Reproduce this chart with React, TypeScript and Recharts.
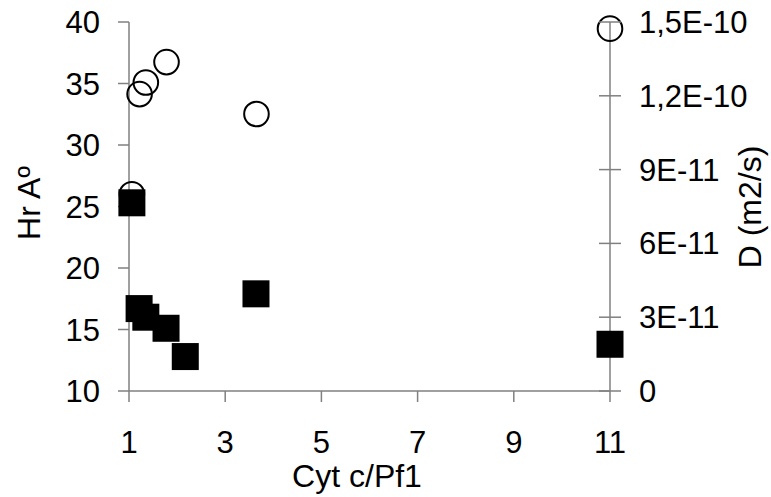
import { ScatterChart, Scatter, XAxis, YAxis } from 'recharts';

// Cyt c / Pf1 ratio for each measurement
const hrRatio = [1.06, 1.21, 1.35, 1.77, 2.17, 3.64, 11];
const hrValues = [25.3, 16.7, 16.0, 15.1, 12.8, 17.9, 13.8];

const dRatio = [1.06, 1.22, 1.35, 1.78, 3.65, 11];
const dValues = [8.0e-11, 1.207e-10, 1.254e-10, 1.337e-10, 1.126e-10, 1.473e-10];

const xTicks = [1, 3, 5, 7, 9, 11];
const hrTicks = [10, 15, 20, 25, 30, 35, 40];
const dTicks = [0, 3e-11, 6e-11, 9e-11, 1.2e-10, 1.5e-10];
const dTickLabels = ['0', '3E-11', '6E-11', '9E-11', '1,2E-10', '1,5E-10'];

const FONT = '"Liberation Sans", Arial, sans-serif';
const AXIS = '#808080';
const TICK_FONT = 31;
const TITLE_FONT = 32;

const hrData = hrRatio.map((x, i) => ({ x, y: hrValues[i] }));
const dData = dRatio.map((x, i) => ({ x, y: dValues[i] }));

const Square = (props: any) => (
  <rect x={props.cx - 13.5} y={props.cy - 13.5} width={27} height={27} fill="#000" />
);

const Ring = (props: any) => (
  <circle cx={props.cx} cy={props.cy} r={12.3} fill="none" stroke="#000" strokeWidth={2} />
);

function RightTick({ x, y, index }: any) {
  return (
    <g>
      <line x1={x - 11} x2={x + 11} y1={y} y2={y} stroke={AXIS} strokeWidth={1.5} />
      <text x={x + 29} y={y} dy="0.355em" fontSize={TICK_FONT} fontFamily={FONT} fill="#000">
        {dTickLabels[index]}
      </text>
    </g>
  );
}

const tickStyle = { fontSize: TICK_FONT, fontFamily: FONT, fill: '#000' };

export default function App() {
  return (
    <div style={{ position: 'absolute', left: 0, top: 0, background: '#fff' }}>
      <ScatterChart width={771} height={497} margin={{ top: 22, right: 0, bottom: 0, left: 0 }}>
        <XAxis
          type="number"
          dataKey="x"
          domain={[1, 11]}
          ticks={xTicks}
          height={106}
          stroke={AXIS}
          strokeWidth={1.5}
          tickSize={11}
          tickMargin={29}
          tick={tickStyle}
          label={{
            value: 'Cyt c/Pf1',
            content: () => (
              <text x={357} y={487} textAnchor="middle" fontSize={TITLE_FONT} fontFamily={FONT} fill="#000">
                Cyt c/Pf1
              </text>
            ),
          }}
        />
        <YAxis
          yAxisId="hr"
          type="number"
          dataKey="y"
          domain={[10, 40]}
          ticks={hrTicks}
          width={129}
          stroke={AXIS}
          strokeWidth={1.5}
          tickSize={11}
          tickMargin={18}
          tick={tickStyle}
          label={{
            value: 'Hr Aº',
            content: () => (
              <text transform="translate(40,203) rotate(-90)" textAnchor="middle" fontSize={TITLE_FONT} fontFamily={FONT} fill="#000">
                Hr Aº
              </text>
            ),
          }}
        />
        <YAxis
          yAxisId="d"
          orientation="right"
          type="number"
          dataKey="y"
          domain={[0, 1.5e-10]}
          ticks={dTicks}
          width={161}
          stroke={AXIS}
          strokeWidth={1.5}
          tickLine={false}
          tickSize={0}
          tickMargin={0}
          tick={<RightTick />}
          label={{
            value: 'D (m2/s)',
            content: () => (
              <text transform="translate(761,207) rotate(-90)" textAnchor="middle" fontSize={TITLE_FONT} fontFamily={FONT} fill="#000">
                D (m2/s)
              </text>
            ),
          }}
        />
        <Scatter yAxisId="d" data={dData} shape={Ring} isAnimationActive={false} />
        <Scatter yAxisId="hr" data={hrData} shape={Square} isAnimationActive={false} />
      </ScatterChart>
    </div>
  );
}
